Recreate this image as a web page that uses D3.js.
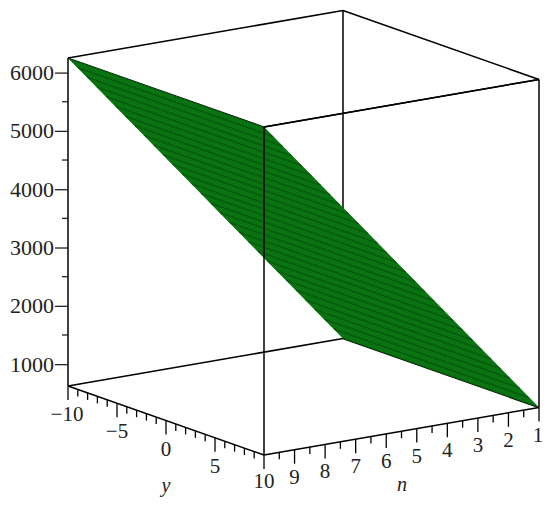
<!DOCTYPE html>
<html><head><meta charset="utf-8">
<script src="https://cdn.jsdelivr.net/npm/d3@7"></script>
<style>html,body{margin:0;padding:0;background:#fff}svg{display:block}text{font-family:"Liberation Serif",serif;fill:#222}</style>
</head><body><svg id="c" width="550" height="505"></svg>
<script>
const yTicks=[-10,-5,0,5,10];
const yMinor=[-9,-8,-7,-6,-4,-3,-2,-1,1,2,3,4,6,7,8,9];
const nTicks=[1,2,3,4,5,6,7,8,9];
const nMinor=[1.5,2.5,3.5,4.5,5.5,6.5,7.5,8.5,9.5];
const zTicks=[1000,2000,3000,4000,5000,6000];
const zMinor=[1500,2500,3500,4500,5500];
const surfaceN=[1,10];
const surfaceZ=[625,6250];
const yEnds=[-10,10];

const svg=d3.select("#c");
const yDx=d3.scaleLinear().domain(yEnds).range([68,264]);
const yDy=d3.scaleLinear().domain(yEnds).range([386,455]);
const nDx=d3.scaleLinear().domain([10,1]).range([0,275]);
const nDy=d3.scaleLinear().domain([10,1]).range([0,-47.5]);
const zPx=d3.scaleLinear().domain(surfaceZ).range([386,58]);
const zOf=d3.scaleLinear().domain(surfaceN).range(surfaceZ);
const zMin=surfaceZ[0], zMax=surfaceZ[1];
const P=(y,n,z)=>[yDx(y)+nDx(n), yDy(y)+nDy(n)+zPx(z)-386];
const line=d3.line();
function seg(a,b,col,w){svg.append("path").attr("d",line([a,b])).attr("stroke",col||"#000").attr("stroke-width",w||1.5).attr("fill","none");}

seg(P(-10,1,zMin),P(-10,1,zMax));
seg(P(-10,10,zMax),P(-10,1,zMax));
seg(P(-10,1,zMax),P(10,1,zMax));
seg(P(10,10,zMax),P(10,1,zMax));
seg(P(-10,10,zMin),P(-10,1,zMin));
seg(P(-10,1,zMin),P(10,1,zMin));
seg(P(-10,10,zMax),P(10,10,zMax),"#000",1.2);

const corners=[P(-10,10,zOf(10)),P(10,10,zOf(10)),P(10,1,zOf(1)),P(-10,1,zOf(1))];
svg.append("clipPath").attr("id","sheet").append("path").attr("d",line(corners)+"Z");
svg.append("path").attr("d",line(corners)+"Z").attr("fill","#0b7412");
const meshN=d3.range(30).map(i=>1+9*i/29), meshY=d3.range(50).map(i=>-10+20*i/49);
const mesh=svg.append("g").attr("clip-path","url(#sheet)").attr("fill","none");
meshN.forEach(n=>mesh.append("path").attr("d",line([P(-10,n,zOf(n)),P(10,n,zOf(n))])).attr("stroke","#03500a").attr("stroke-width",1.8));
meshY.forEach(y=>mesh.append("path").attr("d",line([P(y,1,zOf(1)),P(y,10,zOf(10))])).attr("stroke","#0b7412").attr("stroke-width",1));

seg(P(-10,10,zMin),P(-10,10,zMax));
seg(P(10,10,zMin),P(10,10,zMax));
seg(P(10,1,zMin),P(10,1,zMax));
seg(P(10,10,zMax),P(10,1,zMax));
seg(P(-10,10,zMin),P(10,10,zMin));
seg(P(10,10,zMin),P(10,1,zMin));

const zAxis=d3.axisLeft(zPx).tickValues(zTicks).tickSize(13).tickPadding(1).tickFormat(d3.format("d"));
const gz=svg.append("g").attr("transform","translate(68,0)").call(zAxis);
gz.select(".domain").remove();
gz.selectAll("line").attr("stroke","#222").attr("stroke-width",1.3);
gz.selectAll("text").attr("font-size",22).attr("font-family","Liberation Serif").attr("fill","#222");
zMinor.forEach(z=>seg([62,zPx(z)],[68,zPx(z)],"#222",1.3));

yTicks.forEach(v=>{const p=P(v,10,zMin);seg(p,[p[0],p[1]+14],"#000",1.3);
 svg.append("text").attr("x",p[0]+(v===-10?-1:0)).attr("y",p[1]+(v===10?33:35)).attr("text-anchor","middle").attr("font-size",21).text(v<0?"\u2212"+(-v):v);});
yMinor.forEach(v=>{const p=P(v,10,zMin);seg(p,[p[0],p[1]+7],"#000",1.3);});
nTicks.forEach(v=>{const p=P(10,v,zMin);seg(p,[p[0],p[1]+14],"#000",1.3);
 svg.append("text").attr("x",p[0]-(v===1?1:0)).attr("y",p[1]+34).attr("text-anchor","middle").attr("font-size",21).text(v);});
nMinor.forEach(v=>{const p=P(10,v,zMin);seg(p,[p[0],p[1]+7],"#000",1.3);});
svg.append("text").attr("x",166).attr("y",492).attr("text-anchor","middle").attr("font-style","italic").attr("font-size",20).text("y");
svg.append("text").attr("x",402).attr("y",491).attr("text-anchor","middle").attr("font-style","italic").attr("font-size",20).text("n");
</script></body></html>
